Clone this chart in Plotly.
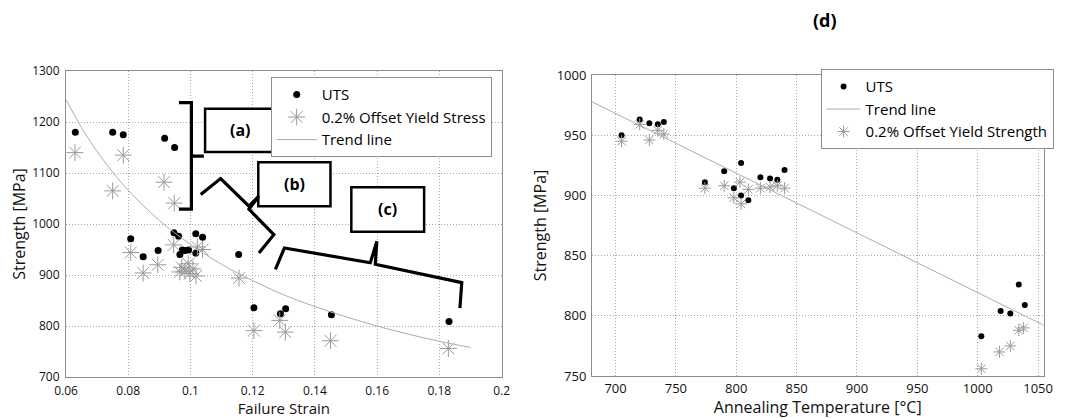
import plotly.graph_objects as go

# ---------------- data: left panel (strength vs failure strain) ----------------
strain_uts = [0.063, 0.075, 0.0784, 0.0917, 0.0949, 0.0808, 0.0848, 0.0896, 0.0947, 0.0962,
              0.0966, 0.0974, 0.0982, 0.0994, 0.1017, 0.1017, 0.1039, 0.1155, 0.1204, 0.1289,
              0.1306, 0.1453, 0.1831]
uts_left = [1180, 1180, 1175, 1168, 1150, 971, 936, 948, 983, 976,
            940, 949, 948, 949, 981, 943, 974, 940, 836, 824,
            834, 822, 809]

strain_ys = [0.0629, 0.075, 0.0784, 0.0915, 0.0948, 0.0808, 0.0848, 0.0895, 0.0946, 0.0966,
             0.0972, 0.0982, 0.0993, 0.0998, 0.1008, 0.1018, 0.1022, 0.1039, 0.1156, 0.1204,
             0.1287, 0.1305, 0.145, 0.1829]
ys_left = [1140, 1065, 1135, 1082, 1041, 944, 904, 920, 959, 906,
           915, 908, 922, 903, 912, 898, 955, 950, 894, 791,
           811, 788, 771, 756]

trend_strain = [0.06, 0.065, 0.07, 0.075, 0.08, 0.09, 0.10, 0.11, 0.12, 0.13,
                0.14, 0.15, 0.16, 0.17, 0.18, 0.19]
trend_left = [1244, 1189, 1142, 1102, 1066, 1007, 960, 921, 889, 861,
              838, 818, 800, 784, 770, 758]

# ---------------- data: right panel (strength vs annealing temperature) ----------------
temp_uts = [705, 720, 728, 735, 740, 774, 790, 798, 804, 804,
            810, 820, 828, 834, 840, 1003, 1019, 1027, 1034, 1039]
uts_right = [950, 963, 960, 959, 961, 911, 920, 906, 900, 927,
             896, 915, 914, 913, 921, 783, 804, 802, 826, 809]

temp_ys = [705, 720, 728, 735, 740, 774, 790, 798, 803, 804,
           810, 820, 828, 834, 840, 1003, 1018, 1027, 1034, 1038]
ys_right = [945, 959, 946, 954, 951, 906, 908, 898, 911, 893,
            905, 906, 907, 908, 906, 756, 770, 775, 788, 790]

trend_temp = [680, 1055]
trend_right = [978, 792]

# tick values
left_xticks = [0.06, 0.08, 0.1, 0.12, 0.14, 0.16, 0.18, 0.2]
left_xticktext = ["0.06", "0.08", "0.1", "0.12", "0.14", "0.16", "0.18", "0.2"]
left_yticks = [700, 800, 900, 1000, 1100, 1200, 1300]
right_xticks = [700, 750, 800, 850, 900, 950, 1000, 1050]
right_yticks = [750, 800, 850, 900, 950, 1000]

# annotation labels and bracket outlines (left panel, data units)
group_labels = ["(a)", "(b)", "(c)"]
label_boxes = [  # x0, x1, y0, y1
    (0.1047, 0.1277, 1141, 1226),
    (0.1218, 0.1450, 1035, 1121),
    (0.1517, 0.1751, 985, 1072),
]
brackets = [
    [(0.0963, 1238), (0.1003, 1238), (0.1003, 1133), (0.1043, 1133), (0.1003, 1133),
     (0.1003, 1029), (0.0963, 1029)],
    [(0.1033, 1058), (0.1097, 1089), (0.1188, 1035), (0.1220, 1055), (0.1188, 1029),
     (0.1268, 979), (0.1220, 943)],
    [(0.1273, 911), (0.1302, 953), (0.1578, 924), (0.1599, 966), (0.1594, 921),
     (0.1872, 885), (0.1866, 835)],
]

FONT = "Open Sans"
GRAY_STAR = "#9a9a9a"

fig = go.Figure()

# ---- left panel traces ----
fig.add_trace(go.Scatter(
    x=strain_uts, y=uts_left, mode="markers", name="UTS",
    marker=dict(symbol="circle", size=7, color="black"),
    xaxis="x", yaxis="y", legend="legend", legendgroup="l1"))
fig.add_trace(go.Scatter(
    x=strain_ys, y=ys_left, mode="markers", name="0.2% Offset Yield Stress",
    marker=dict(symbol="asterisk-open", size=14, color=GRAY_STAR,
                line=dict(color=GRAY_STAR, width=1)),
    xaxis="x", yaxis="y", legend="legend", legendgroup="l2"))
fig.add_trace(go.Scatter(
    x=trend_strain, y=trend_left, mode="lines", name="Trend line",
    line=dict(color="#adadad", width=1, shape="spline"),
    xaxis="x", yaxis="y", legend="legend", legendgroup="l3"))

# ---- right panel traces ----
fig.add_trace(go.Scatter(
    x=temp_uts, y=uts_right, mode="markers", name="UTS",
    marker=dict(symbol="circle", size=6, color="black"),
    xaxis="x2", yaxis="y2", legend="legend2", legendgroup="r1"))
fig.add_trace(go.Scatter(
    x=trend_temp, y=trend_right, mode="lines", name="Trend line",
    line=dict(color="#adadad", width=1),
    xaxis="x2", yaxis="y2", legend="legend2", legendgroup="r2"))
fig.add_trace(go.Scatter(
    x=temp_ys, y=ys_right, mode="markers", name="0.2% Offset Yield Strength",
    marker=dict(symbol="asterisk-open", size=10, color=GRAY_STAR,
                line=dict(color=GRAY_STAR, width=1)),
    xaxis="x2", yaxis="y2", legend="legend2", legendgroup="r3"))

# page body adds an 8px offset; the figure is sized to fit the 1070x418 window
OFF = 8
W, H = 1070 - OFF, 418 - OFF

def px_x(X):
    return (X - OFF) / W

def px_y(Y):
    return 1 - (Y - OFF) / H

def dom_x(a, b):
    return [px_x(a), px_x(b)]

def dom_y(top, bottom):
    return [px_y(bottom), px_y(top)]

axis_common = dict(
    showline=True, mirror=True, linecolor="#8c8c8c", linewidth=1,
    showgrid=True, gridcolor="#a8a8a8", griddash="1px,2px", gridwidth=1,
    zeroline=False, ticks="", color="#111111", automargin=False,
)

shapes = []
annotations = [dict(xref="paper", yref="paper", x=px_x(825), y=px_y(20),
                    xanchor="center", yanchor="middle", text="<b>(d)</b>", showarrow=False,
                    font=dict(family=FONT, size=18, color="black"))]
for (x0, x1, y0, y1), lab in zip(label_boxes, group_labels):
    shapes.append(dict(type="rect", xref="x", yref="y", x0=x0, x1=x1, y0=y0, y1=y1,
                       line=dict(color="black", width=2.5), fillcolor="white", layer="above"))
    annotations.append(dict(xref="x", yref="y", x=(x0 + x1) / 2, y=(y0 + y1) / 2,
                            text=f"<b>{lab}</b>", showarrow=False,
                            font=dict(family=FONT, size=16, color="black")))
for pts in brackets:
    path = "M " + " L ".join(f"{px},{py}" for px, py in pts)
    shapes.append(dict(type="path", xref="x", yref="y", path=path,
                       line=dict(color="black", width=3.2), layer="above"))

fig.update_layout(
    width=W, height=H,
    margin=dict(l=0, r=0, t=0, b=0, autoexpand=False),
    paper_bgcolor="white", plot_bgcolor="white",
    font=dict(family=FONT, size=13, color="#111111"),
    xaxis=dict(domain=dom_x(66, 501.6), range=[0.06, 0.2], tickvals=left_xticks,
               ticktext=left_xticktext, anchor="y", ticklabelstandoff=3,
               title=dict(text="Failure Strain", standoff=0, font=dict(size=15)),
               tickfont=dict(size=12), **axis_common),
    yaxis=dict(domain=dom_y(71, 377), range=[700, 1300], tickvals=left_yticks, anchor="x",
               ticklabelstandoff=3,
               title=dict(text="Strength [MPa]", standoff=10, font=dict(size=16)),
               tickfont=dict(size=12), **axis_common),
    xaxis2=dict(domain=dom_x(592, 1043.5), range=[680.5, 1054.5], tickvals=right_xticks,
                anchor="y2", ticklabelstandoff=0,
                title=dict(text="Annealing Temperature [°C]", standoff=0, font=dict(size=16)),
                tickfont=dict(size=13), **axis_common),
    yaxis2=dict(domain=dom_y(75, 376), range=[750, 1000], tickvals=right_yticks, anchor="x2",
                ticklabelstandoff=2,
                title=dict(text="Strength [MPa]", standoff=6, font=dict(size=16)),
                tickfont=dict(size=13), **axis_common),
    legend=dict(x=px_x(270.7), y=px_y(77.3), xanchor="left", yanchor="top",
                bgcolor="white", bordercolor="#8c8c8c", borderwidth=1,
                font=dict(family=FONT, size=15, color="black"),
                traceorder="grouped", tracegroupgap=0, itemwidth=40),
    legend2=dict(x=px_x(820.6), y=px_y(69.3), xanchor="left", yanchor="top",
                 bgcolor="white", bordercolor="#8c8c8c", borderwidth=1,
                 font=dict(family=FONT, size=15, color="black"),
                 traceorder="grouped", tracegroupgap=0, itemwidth=34),
    shapes=shapes,
    annotations=annotations,
    showlegend=True,
)

fig.write_html("out.html")
